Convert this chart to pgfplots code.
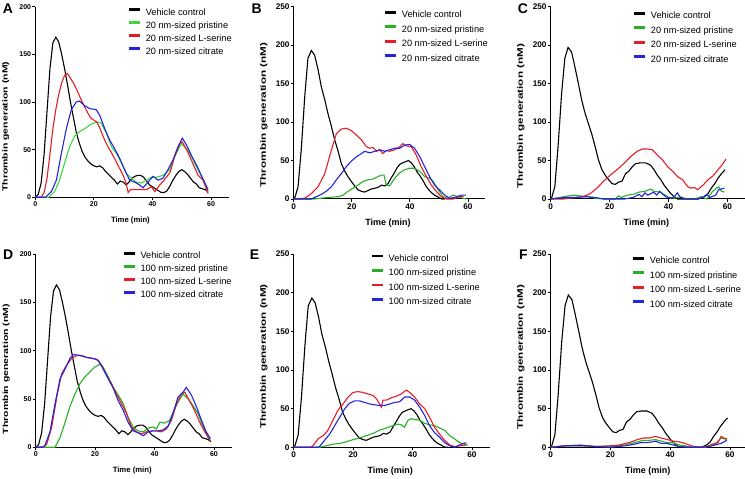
\documentclass[border=0pt]{standalone}
\usepackage{fontspec}
\setmainfont{Liberation Sans}
\usepackage{pgfplots}
\pgfplotsset{compat=1.18}
\definecolor{cgreenA}{RGB}{60,215,60}
\definecolor{cgreen}{RGB}{40,175,40}
\definecolor{cred}{RGB}{228,30,36}
\definecolor{cblue}{RGB}{36,36,220}
\pgfplotsset{
  prism/.style={
    scale only axis, xmin=0, xmax=66, ymin=0,
    axis x line=bottom, axis y line=left,
    axis line style={-, line width=1pt},
    tick align=outside, major tick length=3pt,
    tick style={black, line width=0.9pt},
    xtick={0,20,40,60},
    /pgf/number format/assume math mode=true,
    legend cell align=left,
    every axis plot/.append style={line width=1.1pt, mark=none},
    clip=false,
    xticklabel style={inner sep=1.5pt},
    yticklabel style={inner sep=1pt},
  },
  lk/.style={legend image code/.code={\fill[#1] (0pt,2.2pt) rectangle (9.5pt,3.8pt);}},
  small/.style n args={3}{
    ticklabel style={font=\bfseries\fontsize{7}{8}\selectfont},
    every axis y label/.style={at={(rel axis cs:0,#1)}, xshift=-29.5pt, rotate=90, anchor=center, font=\bfseries\fontsize{7.5}{8}\selectfont},
    every axis x label/.style={at={(rel axis cs:0.492,0)}, yshift=-23.3pt, anchor=center, font=\bfseries\fontsize{7.7}{8}\selectfont},
    ylabel={\scalebox{1.40}[1]{Thrombin generation (nM)}},
    xlabel={Time (min)},
    legend style={draw=none, fill=none, anchor=north west, at={(#2,#3)}, inner sep=0pt, outer sep=0pt, row sep=4pt, column sep=6pt,
      font=\fontsize{9.2}{10}\selectfont, nodes={inner sep=0pt, text height=7pt, text depth=2pt}},
  },
  big/.style n args={3}{
    ticklabel style={font=\bfseries\fontsize{8.2}{9}\selectfont},
    every axis y label/.style={at={(rel axis cs:0,#1)}, xshift=-30pt, rotate=90, anchor=center, font=\bfseries\fontsize{8}{9}\selectfont},
    every axis x label/.style={at={(rel axis cs:0.492,0)}, yshift=-24.3pt, anchor=center, font=\bfseries\fontsize{9}{10}\selectfont},
    ylabel={\scalebox{1.46}[1]{Thrombin generation (nM)}},
    xlabel={Time (min)},
    legend style={draw=none, fill=none, anchor=north west, at={(#2,#3)}, inner sep=0pt, outer sep=0pt, row sep=5.5pt, column sep=6pt,
      font=\fontsize{9.2}{10}\selectfont, nodes={inner sep=0pt, text height=7pt, text depth=2pt}},
  },
}
\begin{document}
\begin{tikzpicture}
\useasboundingbox (0,0) rectangle (745pt,479pt);
\tikzset{plab/.style={anchor=base west, inner sep=0pt, font=\bfseries\fontsize{14}{14}\selectfont}}
\node[plab] at (2.7pt,465.7pt) {A};
\node[plab] at (251.3pt,465.7pt) {B};
\node[plab] at (517.7pt,465.7pt) {C};
\node[plab] at (3pt,219pt) {D};
\node[plab] at (249.7pt,219pt) {E};
\node[plab] at (519pt,219pt) {F};

% ---------------- A ----------------
\begin{axis}[prism, small={0.37}{0.486}{0.992}, at={(35.3pt,281.7pt)}, anchor=south west,
  width=193.3pt, height=190.6pt, ymax=200, ytick={0,50,100,150,200}]
\addplot[black, lk=black] coordinates {(0,0)(1,3)(2,15)(3,45)(4,90)(5,135)(6,162)(7,168)(8,163)(9,150)(10,135)(11,118)(12,100)(13,84)(14,68)(15,57)(16,48)(17,42)(18,38)(19,35)(20,33)(21,32)(22,33)(23,31)(24,27)(25,24)(26,21)(27,18)(28,14)(29,17)(30,16)(31,13)(32,16)(33,20)(34,22)(35,23)(36,23)(37,21)(38,17)(39,13)(40,11)(41,9)(42,7)(43,5)(44,5)(45,7)(46,12)(47,18)(48,23)(49,27)(50,29)(51,27)(52,24)(53,20)(54,16)(55,14)(56,10)(57,9)(58,8)(59,6)};
\addlegendentry{Vehicle control}
\addplot[cgreenA, lk=cgreenA] coordinates {(0,0)(4.5,0)(6.6,6)(8.3,18)(10,36)(11.7,53)(13.4,64)(15.1,69)(16.9,72)(18.6,76)(20.8,79)(22.5,78)(24.3,67)(26,53)(27.7,46)(29.4,36)(31.1,25)(32.8,20)(34.5,16)(36.2,15)(37.9,18)(39.6,21)(41.3,21)(43.6,23)(45.9,29)(47.6,43)(49.9,56)(51.6,51)(53.3,43)(55,32)(56.7,22)(59,6)};
\addlegendentry{20 nm-sized pristine}
\addplot[cred, lk=cred] coordinates {(0,0)(2,0)(3,5)(4,20)(5,45)(6,72)(7,92)(8,108)(9,120)(10,128)(11,130)(12,125)(13,120)(14,114)(15,107)(16,100)(17,94)(18,88)(19,83)(20,81)(21,79)(22,73)(23,65)(24,58)(25,52)(26,47)(27,41)(28,35)(29,29)(30,23)(31,15)(31.7,5)(32.5,8)(34,8)(36,8)(38,8)(39.6,11)(40.8,6)(42.5,13)(44,18)(46,26)(47.5,42)(49.3,56)(50.2,58)(52,48)(54,34)(55.6,23)(57.3,18)(59,4)};
\addlegendentry{20 nm-sized L-serine}
\addplot[cblue, lk=cblue] coordinates {(0,0)(3.5,0)(5.5,6)(7.2,18)(8.9,46)(10.6,72)(12.3,92)(14,100)(15.1,101)(16.9,96)(18.6,93)(20.8,92)(22,86)(23.7,72)(25.4,60)(27.1,51)(28.8,41)(30.5,29)(32.2,18)(33.9,16)(35.6,13)(36.8,10)(38.5,16)(40.2,22)(41.9,18)(43.6,20)(45.3,29)(47,39)(48.7,53)(50.2,62)(51.6,55)(53.3,44)(55,34)(56.7,23)(59,8)};
\addlegendentry{20 nm-sized citrate}
\end{axis}

% ---------------- B ----------------
\begin{axis}[prism, big={0.437}{0.478}{0.979}, at={(293.7pt,280pt)}, anchor=south west,
  width=191.7pt, height=192.3pt, ymax=250, ytick={0,50,100,150,200,250}]
\addplot[black, lk=black] coordinates {(0,0)(0.5,3)(1.5,16)(2.6,64)(3.8,133)(4.9,183)(6.1,193)(7.2,187)(8.4,168)(9.5,146)(10.7,129)(11.8,111)(13,94)(14.1,77)(15.3,62)(16.4,46)(17.6,36)(18.7,29)(19.8,23)(21,17)(22.1,12)(23.3,10)(24.4,9)(25.6,11)(26.7,13)(27.9,14)(29,15)(30.2,18)(31.3,17)(32.5,20)(33.5,27)(34.5,33)(35.5,40)(36.5,45)(37.5,47)(39.5,50)(40.5,47)(41.5,42)(42.5,35)(43.5,30)(44.5,24)(45.5,17)(46.5,12)(47.5,8)(48.5,5)(49.5,3)(51,0)(52,0)};
\addlegendentry{Vehicle control}
\addplot[cgreen, lk=cgreen] coordinates {(0,0)(7,0)(11.8,2)(15.3,3)(17,5)(18.7,10)(20.4,14)(22.1,18)(23.9,23)(25.6,25)(27.3,26)(29,29)(30.2,31)(31.1,31)(31.9,18)(33,17)(34.8,27)(36.5,34)(38.2,38)(39.9,40)(41.6,40)(43.4,36)(45.1,29)(46.8,27)(48,23)(49.7,12)(51.4,3)(53.1,1)(54.8,5)(56.6,3)(58.3,1)(59.4,0)};
\addlegendentry{20 nm-sized pristine}
\addplot[cred, lk=cred] coordinates {(0,0)(3.8,1)(6.1,7)(8.4,16)(10.7,33)(13,64)(14.7,85)(16.4,91)(18.1,92)(19.8,89)(21.6,83)(23.3,77)(25,68)(26.2,66)(27.3,67)(28.5,62)(29.6,64)(30.7,59)(31.9,63)(33,62)(34.8,64)(36.5,68)(37.6,72)(38.8,69)(40.5,68)(42.2,57)(43.9,42)(45.7,29)(47.4,18)(49.1,10)(50.8,3)(52.5,0)(55,0)(57,3)(58.5,3)};
\addlegendentry{20 nm-sized L-serine}
\addplot[cblue, lk=cblue] coordinates {(0,0)(6,0)(7.8,3)(9.5,6)(11.2,10)(13,16)(14.7,25)(16.4,33)(18.1,42)(19.8,49)(21.6,55)(23.3,59)(24.4,62)(26.2,60)(27.9,62)(29.6,64)(31.3,62)(33,64)(34.8,66)(36.5,66)(38.2,70)(39.9,71)(41.6,66)(43.4,55)(45.1,42)(46.8,29)(48.5,18)(50.2,12)(52,5)(53.7,1)(55.4,2)(57.7,5)(59.4,5)};
\addlegendentry{20 nm-sized citrate}
\end{axis}

% ---------------- C ----------------
\begin{axis}[prism, big={0.43}{0.43}{0.974}, at={(550.7pt,280pt)}, anchor=south west,
  width=194.4pt, height=192.3pt, ymax=250, ytick={0,50,100,150,200,250}]
\addplot[black, lk=black] coordinates {(0,0)(0.2,0)(1.4,16)(2.5,68)(3.7,137)(4.8,183)(5.9,197)(7.1,191)(8.2,172)(9.4,150)(10.5,129)(11.7,111)(12.8,98)(13.9,85)(15.1,68)(16.2,51)(17.4,38)(18.5,31)(19.7,25)(20.8,20)(21.9,19)(23.1,22)(24.2,23)(25.4,33)(26.5,36)(27.7,42)(28.8,46)(30.5,47)(32.2,47)(33.9,44)(35.1,38)(36.2,31)(37.4,25)(38.5,18)(39.7,12)(40.8,7)(41.9,3)(43.1,0)(50,0)(51,1)(52.2,3)(53.4,7)(54.5,14)(55.7,20)(56.8,27)(58,33)(59.2,38)};
\addlegendentry{Vehicle control}
\addplot[cgreen, lk=cgreen] coordinates {(0,0)(3,2)(6,4)(8,5)(10,4)(13,3)(15,1)(18,0)(22,0)(23,4)(24,2)(26,5)(28,6)(30,9)(32,10)(34,13)(35,10)(37,9)(39,5)(40,2)(42,1)(44,3)(46,0)(49,0)(51,3)(53,0)(55,10)(57,16)(58,10)(59,9)};
\addlegendentry{20 nm-sized pristine}
\addplot[cred, lk=cred] coordinates {(0,0)(4.2,0)(6.5,1)(8.8,2)(11.1,3)(13.4,7)(15.7,14)(17.9,23)(20.2,31)(22.5,38)(24.8,46)(27.1,55)(29.4,62)(31.1,65)(32.8,65)(34.5,64)(36.2,57)(37.9,51)(39.7,42)(41.4,36)(43.1,29)(44.8,25)(46.5,16)(47.7,14)(48.8,15)(49.9,12)(51.7,18)(53.4,25)(55.1,30)(56.8,38)(58.5,46)(59.5,52)};
\addlegendentry{20 nm-sized L-serine}
\addplot[cblue, lk=cblue] coordinates {(0,0)(5,2)(8,2)(12,3)(15,2)(18,0)(25,0)(28,2)(30,6)(31,3)(32,8)(33,5)(35,9)(36,5)(37,10)(39,3)(41,1)(42,3)(43,8)(44,2)(46,0)(50,0)(52,3)(53,6)(54,2)(56,5)(57,12)(58,13)(59,14)};
\addlegendentry{20 nm-sized citrate}
\end{axis}

% ---------------- D ----------------
\begin{axis}[prism, small={0.405}{0.45}{1.012}, at={(35.7pt,31.7pt)}, anchor=south west,
  width=196.1pt, height=193.3pt, ymax=200, ytick={0,50,100,150,200}]
\addplot[black, lk=black] coordinates {(0,0)(1,3)(2,15)(3,45)(4,90)(5,135)(6,162)(7,168)(8,163)(9,150)(10,135)(11,118)(12,100)(13,84)(14,68)(15,57)(16,48)(17,42)(18,38)(19,35)(20,33)(21,32)(22,33)(23,31)(24,27)(25,24)(26,21)(27,18)(28,14)(29,17)(30,16)(31,13)(32,16)(33,20)(34,22)(35,23)(36,23)(37,21)(38,17)(39,13)(40,11)(41,9)(42,7)(43,5)(44,5)(45,7)(46,12)(47,18)(48,23)(49,27)(50,29)(51,27)(52,24)(53,20)(54,16)(55,14)(56,10)(57,9)(58,8)(59,6)};
\addlegendentry{Vehicle control}
\addplot[cgreen, lk=cgreen] coordinates {(0,0)(6.5,0)(8.2,10)(9.9,26)(11.5,42)(13.2,55)(14.9,66)(16.6,73)(18.3,78)(19.9,83)(21.6,86)(22.7,83)(24.4,73)(26.1,62)(27.8,54)(29.5,45)(31.1,31)(32.8,21)(34.5,17)(36.2,16)(37.9,20)(39.5,21)(40.6,19)(41.8,26)(43.4,25)(45.1,28)(46.8,40)(48.5,50)(49.6,55)(51.3,50)(53,43)(54.6,35)(56.3,22)(58,10)(58.8,7)};
\addlegendentry{100 nm-sized pristine}
\addplot[cred, lk=cred] coordinates {(0,0)(2.5,0)(3.7,3)(5.4,21)(7.1,52)(8.7,76)(10.4,85)(12.1,92)(13.8,95)(15.5,95)(17.1,93)(18.8,92)(20.5,91)(22.2,85)(23.9,74)(25.5,66)(27.2,55)(28.9,45)(30.6,35)(32.2,21)(33.9,16)(35.6,14)(37.3,16)(39,17)(40.6,17)(42.3,16)(44,19)(45.7,28)(47.4,45)(49,55)(50.2,57)(51.8,48)(53.5,38)(55.2,26)(56.9,16)(58.6,8)};
\addlegendentry{100 nm-sized L-serine}
\addplot[cblue, lk=cblue] coordinates {(0,0)(2.3,0)(3.1,2)(4.8,16)(6.5,45)(8.2,71)(9.9,81)(11.5,92)(12.7,96)(14.9,95)(17.1,93)(19.4,92)(21.1,90)(22.7,81)(24.4,71)(26.1,61)(27.8,48)(29.5,38)(31.1,26)(32.8,17)(34.5,15)(36.2,12)(37.9,16)(39.5,17)(41.2,17)(42.9,18)(44.6,22)(46.2,35)(47.9,52)(49.6,57)(50.7,62)(52.4,54)(54.1,42)(55.8,28)(57.4,16)(58.8,9)};
\addlegendentry{100 nm-sized citrate}
\end{axis}

% ---------------- E ----------------
\begin{axis}[prism, big={0.469}{0.40}{0.998}, at={(293.7pt,31.7pt)}, anchor=south west,
  width=196.1pt, height=193.3pt, ymax=250, ytick={0,50,100,150,200,250}]
\addplot[black, lk=black] coordinates {(0,0)(0.5,3)(1.5,16)(2.6,64)(3.8,133)(4.9,183)(6.1,193)(7.2,187)(8.4,168)(9.5,146)(10.7,129)(11.8,111)(13,94)(14.1,77)(15.3,62)(16.4,46)(17.6,36)(18.7,29)(19.8,23)(21,17)(22.1,12)(23.3,10)(24.4,9)(25.6,11)(26.7,13)(27.9,14)(29,15)(30.2,18)(31.3,17)(32.5,20)(33.5,27)(34.5,33)(35.5,40)(36.5,45)(37.5,47)(39.5,50)(40.5,47)(41.5,42)(42.5,35)(43.5,30)(44.5,24)(45.5,17)(46.5,12)(47.5,8)(48.5,5)(49.5,3)(51,0)(52,0)};
\addlegendentry{Vehicle control}
\addplot[cgreen, lk=cgreen] coordinates {(0,0)(8.7,0)(11,2)(13.2,4)(15.5,5)(17.7,7)(20,10)(22.2,12)(24.4,15)(26.7,18)(28.9,22)(31.2,25)(33.4,28)(35.1,30)(36.2,29)(37.3,26)(38.5,35)(39.6,37)(40.7,36)(42.4,35)(44.1,31)(45.7,29)(47.4,28)(49.1,25)(50.8,22)(52.5,15)(54.1,11)(55.8,6)(57.5,4)(58.6,3)};
\addlegendentry{100 nm-sized pristine}
\addplot[cred, lk=cred] coordinates {(0,0)(5.5,0)(6.5,2)(8.2,11)(9.9,15)(11.5,22)(13.2,35)(14.9,48)(16.6,56)(18.3,65)(20,71)(21.6,72)(23.3,71)(25,69)(26.7,67)(27.8,63)(28.9,56)(29.5,52)(30,61)(31.2,61)(32.8,64)(34.5,66)(36.2,69)(37.9,74)(39,71)(40.7,65)(42.4,56)(44.1,50)(45.7,39)(47.4,26)(49.1,17)(50.8,9)(52.5,3)(54.1,1)(56.4,2)(58.1,3)};
\addlegendentry{100 nm-sized L-serine}
\addplot[cblue, lk=cblue] coordinates {(0,0)(8,0)(8.7,1)(10.4,9)(12.1,17)(13.8,28)(15.5,39)(17.2,50)(18.8,57)(20.5,60)(22.2,60)(23.9,58)(25.6,56)(27.2,55)(28.9,54)(30.6,54)(32.3,56)(34,58)(35.7,59)(37.3,65)(39,65)(40.7,61)(42.4,52)(44.1,41)(45.7,28)(47.4,19)(49.1,13)(50.8,6)(52.5,2)(54.1,0)(56.4,4)(58.1,6)};
\addlegendentry{100 nm-sized citrate}
\end{axis}

% ---------------- F ----------------
\begin{axis}[prism, big={0.465}{0.419}{0.986}, at={(550.7pt,31.7pt)}, anchor=south west,
  width=197.2pt, height=193.3pt, ymax=250, ytick={0,50,100,150,200,250}]
\addplot[black, lk=black] coordinates {(0,0)(0.2,0)(1.4,16)(2.5,68)(3.7,137)(4.8,183)(5.9,197)(7.1,191)(8.2,172)(9.4,150)(10.5,129)(11.7,111)(12.8,98)(13.9,85)(15.1,68)(16.2,51)(17.4,38)(18.5,31)(19.7,25)(20.8,20)(21.9,19)(23.1,22)(24.2,23)(25.4,33)(26.5,36)(27.7,42)(28.8,46)(30.5,47)(32.2,47)(33.9,44)(35.1,38)(36.2,31)(37.4,25)(38.5,18)(39.7,12)(40.8,7)(41.9,3)(43.1,0)(50,0)(51,1)(52.2,3)(53.4,7)(54.5,14)(55.7,20)(56.8,27)(58,33)(59.2,38)};
\addlegendentry{Vehicle control}
\addplot[cgreen, lk=cgreen] coordinates {(0,0)(5,2)(10,2)(15,1)(20,1)(25,3)(27,5)(29,7)(31,9)(33,9)(35,10)(37,8)(39,6)(41,6)(43,3)(45,2)(47,0)(49,1)(51,0)(53,2)(55,4)(57,12)(58,11)(59,10)};
\addlegendentry{100 nm-sized pristine}
\addplot[cred, lk=cred] coordinates {(0,0)(5,2)(10,3)(12,2)(15,1)(20,2)(23,3)(25,5)(27,7)(29,10)(31,12)(33,12)(35,14)(37,12)(39,10)(41,8)(43,7)(45,5)(47,2)(49,0)(52,0)(54,4)(56,6)(57,14)(58,12)(59,11)};
\addlegendentry{100 nm-sized L-serine}
\addplot[cblue, lk=cblue] coordinates {(0,0)(5,2)(8,2)(12,2)(15,1)(20,0)(25,2)(28,4)(30,6)(32,6)(34,7)(35,8)(37,5)(39,5)(41,3)(43,1)(46,0)(50,0)(53,1)(55,3)(57,5)(59,9)};
\addlegendentry{100 nm-sized citrate}
\end{axis}
\end{tikzpicture}
\end{document}
